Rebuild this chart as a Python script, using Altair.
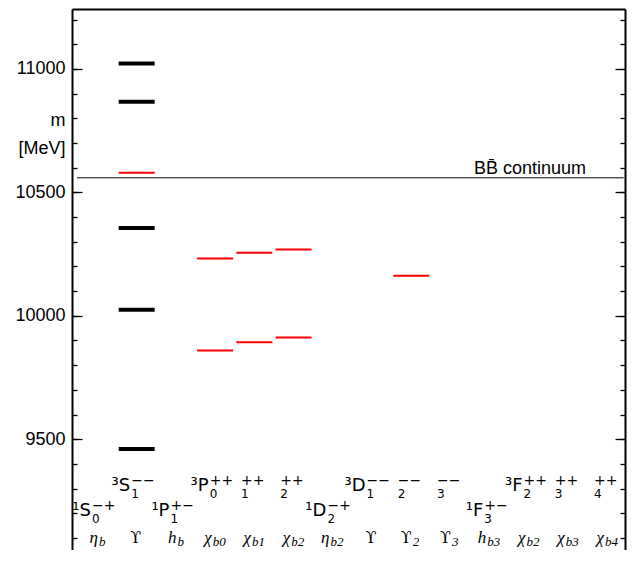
import altair as alt
import pandas as pd

# ---------------- data ----------------
# energy levels: column index, mass [MeV], kind
level_col = [1, 1, 1, 1, 1, 1, 3, 3, 4, 4, 5, 5, 8]
level_mass = [9460, 10024, 10356, 10580, 10867, 11022, 9859, 10232, 9893, 10255, 9912, 10269, 10162]
level_kind = ["observed", "observed", "observed", "predicted", "observed", "observed",
              "predicted", "predicted", "predicted", "predicted", "predicted", "predicted", "predicted"]

# B Bbar threshold
threshold_mass = [10559]
threshold_label = ["B\u0042\u0304 continuum"]

# particle names under each column
name_col = list(range(14))
name_main = ["η", "ϒ", "h", "χ", "χ", "χ", "η", "ϒ", "ϒ", "ϒ", "h", "χ", "χ", "χ"]
name_sub = ["b", "", "b", "b0", "b1", "b2", "b2", "", "2", "3", "b3", "b2", "b3", "b4"]

# spectroscopic term symbols
term_col = [1, 3, 4, 5, 7, 8, 9, 11, 12, 13, 0, 2, 6, 10]
term_row = [1, 1, 1, 1, 1, 1, 1, 1, 1, 1, 2, 2, 2, 2]
term_main = ["³S", "³P", "", "", "³D", "", "", "³F", "", "", "¹S", "¹P", "¹D", "¹F"]
term_sub = ["1", "0", "1", "2", "1", "2", "3", "2", "3", "4", "0", "1", "2", "3"]
term_sup = ["−−", "++", "++", "++", "−−", "−−", "−−", "++", "++", "++", "−+", "+−", "−+", "+−"]

major_ticks = [9500, 10000, 10500, 11000]
minor_ticks = list(range(9100, 11201, 100))

# ---------------- layout ----------------
W, H = 553, 541
SP = 39.23  # px per column
X_DOM = [-0.612, 13.485]
Y_DOM = [9051, 11243]

x_scale = alt.Scale(domain=X_DOM, nice=False, zero=False)
y_scale = alt.Scale(domain=Y_DOM, nice=False, zero=False)

SANS = "Liberation Sans"
MATHSANS = "DejaVu Sans"
SERIF = "Liberation Serif"


def yaxis(orient, size, values, labels=False, title=None):
    kw = dict(orient=orient, offset=-size, tickSize=size, values=values, domain=False,
              grid=False, labels=labels, tickColor="black", tickWidth=1.3)
    if labels:
        kw.update(labelFontSize=18, labelFont=SANS, labelColor="black", labelPadding=7,
                  format="d")
    if title is not None:
        kw.update(title=title, titleAngle=0, titleAlign="right", titleBaseline="alphabetic",
                  titleX=-17, titleY=116, titleFontSize=18, titleFontWeight="normal",
                  titleFont=SANS, titleColor="black", titleLineHeight=28)
    else:
        kw.update(title="")
    return alt.Axis(**kw)


def frame_axis(orient):
    return alt.Axis(orient=orient, offset=0, domain=True, domainColor="black", domainWidth=2,
                    ticks=False, labels=False, grid=False, title="")


XAX = frame_axis("top")

levels = pd.DataFrame({"col": level_col, "mass": level_mass, "kind": level_kind})
thr = pd.DataFrame({"mass": threshold_mass, "label": threshold_label})
names = pd.DataFrame({"col": name_col, "main": name_main, "sub": name_sub})
terms = pd.DataFrame({"col": term_col, "row": term_row, "main": term_main,
                      "sub": term_sub, "sup": term_sup})

half = 18 / SP

lev = alt.Chart(levels).transform_calculate(
    x1=f"datum.col + 0.036 - {half}", x2=f"datum.col + 0.036 + {half}"
).mark_rule(strokeCap="butt").encode(
    x=alt.X("x1:Q", scale=x_scale, axis=XAX),
    x2="x2:Q",
    y=alt.Y("mass:Q", scale=y_scale,
            axis=yaxis("left", 10, major_ticks, labels=True, title=["m\u00a0", "[MeV]"])),
    color=alt.Color("kind:N", scale=alt.Scale(domain=["observed", "predicted"],
                                              range=["black", "#ff0000"]), legend=None),
    strokeWidth=alt.StrokeWidth("kind:N", scale=alt.Scale(domain=["observed", "predicted"],
                                                          range=[4, 2]), legend=None),
)

thr_line = alt.Chart(thr).transform_calculate(
    x1="-0.485", x2="13.45"
).mark_rule(color="black", strokeWidth=1).encode(
    x=alt.X("x1:Q", scale=x_scale, axis=XAX),
    x2="x2:Q",
    y=alt.Y("mass:Q", scale=y_scale, axis=yaxis("left", 5, minor_ticks)),
)

thr_text = alt.Chart(thr).transform_calculate(
    xt="12.49"
).mark_text(align="right", baseline="alphabetic", dy=-4,
            font=SANS, fontSize=18, color="black").encode(
    x=alt.X("xt:Q", scale=x_scale, axis=XAX),
    y=alt.Y("mass:Q", scale=y_scale, axis=yaxis("right", 10, major_ticks)),
    text="label:N",
)

term_base = alt.Chart(terms).transform_calculate(
    xa=f"datum.col + (datum.main == '' ? -13 : -5) / {SP}",
    yb="datum.row == 1 ? 9290 : 9189",
)

term_main_t = term_base.transform_filter("datum.main != ''").mark_text(
    align="right", baseline="alphabetic", font=MATHSANS, fontSize=18, color="black"
).encode(
    x=alt.X("xa:Q", scale=x_scale, axis=XAX),
    y=alt.Y("yb:Q", scale=y_scale, axis=yaxis("right", 5, minor_ticks)),
    text="main:N",
)

term_sub_t = term_base.mark_text(
    align="left", baseline="alphabetic", font=MATHSANS, fontSize=12, color="black", dx=1, dy=7
).encode(
    x=alt.X("xa:Q", scale=x_scale, axis=XAX),
    y=alt.Y("yb:Q", scale=y_scale, axis=None),
    text="sub:N",
)

term_sup_t = term_base.mark_text(
    align="left", baseline="alphabetic", font=MATHSANS, fontSize=14, color="black", dx=1, dy=-6
).encode(
    x=alt.X("xa:Q", scale=x_scale, axis=XAX),
    y=alt.Y("yb:Q", scale=y_scale, axis=None),
    text="sup:N",
)

name_base = alt.Chart(names).transform_calculate(
    xa=f"datum.col + (length(datum.sub) == 0 ? 6 : (length(datum.sub) == 1 ? 2 : -2)) / {SP}",
    yb="9079",
)

name_main_it = name_base.transform_filter("datum.main != 'ϒ'").mark_text(
    align="right", baseline="alphabetic", font=SERIF, fontStyle="italic", fontSize=17, color="black"
).encode(
    x=alt.X("xa:Q", scale=x_scale, axis=XAX),
    y=alt.Y("yb:Q", scale=y_scale, axis=frame_axis("left")),
    text="main:N",
)

name_main_up = name_base.transform_filter("datum.main == 'ϒ'").mark_text(
    align="right", baseline="alphabetic", font="DejaVu Serif", fontSize=16, color="black"
).encode(
    x=alt.X("xa:Q", scale=x_scale, axis=XAX),
    y=alt.Y("yb:Q", scale=y_scale, axis=frame_axis("right")),
    text="main:N",
)

name_sub_t = name_base.mark_text(
    align="left", baseline="alphabetic", font=SERIF, fontStyle="italic", fontSize=13,
    color="black", dx=1, dy=3
).encode(
    x=alt.X("xa:Q", scale=x_scale, axis=XAX),
    y=alt.Y("yb:Q", scale=y_scale, axis=None),
    text="sub:N",
)

chart = alt.layer(
    lev, thr_line, thr_text, term_main_t, term_sub_t, term_sup_t,
    name_main_it, name_main_up, name_sub_t
).resolve_axis(y="independent").properties(
    width=W, height=H, autosize="none",
    padding={"left": 64, "top": 1, "right": 2, "bottom": 0},
).configure_view(stroke=None)

chart.save("out.html", embed_options={"renderer": "svg", "actions": False})
